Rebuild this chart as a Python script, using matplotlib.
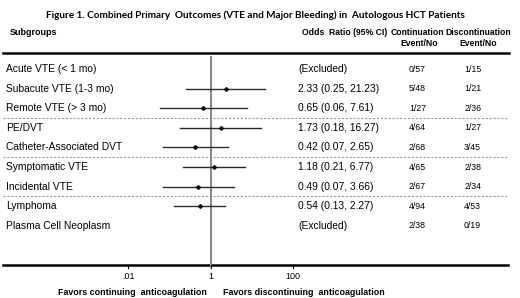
import matplotlib
matplotlib.use('Agg')
import matplotlib.pyplot as plt
import matplotlib.transforms as mtransforms

# data
subgroups = ['Acute VTE (< 1 mo)', 'Subacute VTE (1-3 mo)', 'Remote VTE (> 3 mo)',
             'PE/DVT', 'Catheter-Associated DVT', 'Symptomatic VTE',
             'Incidental VTE', 'Lymphoma', 'Plasma Cell Neoplasm']
odds = [None, 2.33, 0.65, 1.73, 0.42, 1.18, 0.49, 0.54, None]
ci_low = [None, 0.25, 0.06, 0.18, 0.07, 0.21, 0.07, 0.13, None]
ci_high = [None, 21.23, 7.61, 16.27, 2.65, 6.77, 3.66, 2.27, None]
continuation = ['0/57', '5/48', '1/27', '4/64', '2/68', '4/65', '2/67', '4/94', '2/38']
discontinuation = ['1/15', '1/21', '2/36', '1/27', '3/45', '2/38', '2/34', '4/53', '0/19']
group_breaks = [2.5, 4.5, 6.5]
tick_vals = [0.01, 1, 100]
tick_labels = ['.01', '1', '100']

plt.rcParams['font.family'] = ['Liberation Sans', 'DejaVu Sans']

fig = plt.figure(figsize=(5.2, 2.98), dpi=100)
ax = fig.add_axes([0, 0, 1, 1])
ax.set_xscale('log')
ax.set_xlim(10 ** -5.108, 10 ** 7.498)
ax.set_ylim(11.68, -3.52)
ax.axis('off')

# x in axes fraction, y in row units
tr = mtransforms.blended_transform_factory(ax.transAxes, ax.transData)

fs = 7.4
for i, name in enumerate(subgroups):
    ax.text(0.012, i, name, transform=tr, fontsize=fs, va='center', ha='left')
    if odds[i] is None:
        ax.text(0.573, i, '(Excluded)', transform=tr, fontsize=fs, va='center', ha='left')
    else:
        ax.plot([ci_low[i], ci_high[i]], [i, i], color='#2a2a2a', lw=1.0, zorder=3)
        ax.plot(odds[i], i, marker='D', ms=1.9, color='black', zorder=4)
        ax.text(0.573, i, '%.2f (%.2f, %.2f)' % (odds[i], ci_low[i], ci_high[i]),
                transform=tr, fontsize=fs, va='center', ha='left')
    ax.text(0.803, i, continuation[i], transform=tr, fontsize=6.3, va='center', ha='center')
    ax.text(0.909, i, discontinuation[i], transform=tr, fontsize=6.3, va='center', ha='center')

# separators
for b in group_breaks:
    ax.plot([0.006, 0.977], [b, b], transform=tr, color='#9a9a9a', lw=0.8,
            ls=(0, (2, 1.5)))
ax.plot([0.006, 0.979], [-0.82, -0.82], transform=tr, color='black', lw=1.8)
ax.plot([0.006, 0.977], [10, 10], transform=tr, color='black', lw=1.8)

# line of no effect
ax.plot([1, 1], [-0.6, 10.1], color='#8a8a8a', lw=1.5, zorder=2)

# ticks
for v, lab in zip(tick_vals, tick_labels):
    ax.plot([v, v], [10, 10.15], color='black', lw=0.8)
    ax.text(v, 10.6, lab, fontsize=6.5, ha='center', va='center')

ax.annotate('Favors continuing  anticoagulation', xy=(1, 11.38), xytext=(-3, 0),
            textcoords='offset points', fontsize=6.4, fontweight='bold',
            ha='right', va='center')
ax.annotate('Favors discontinuing  anticoagulation', xy=(1, 11.38), xytext=(9, 0),
            textcoords='offset points', fontsize=6.4, fontweight='bold',
            ha='left', va='center')

# headers
hy = -1.84
hfs = 6.2
ax.text(0.019, hy, 'Subgroups', transform=tr, fontsize=6.5, fontweight='bold',
        va='center', ha='left')
ax.text(0.581, hy, 'Odds  Ratio (95% CI)', transform=tr, fontsize=hfs,
        fontweight='bold', va='center', ha='left')
ax.text(0.802, hy, 'Continuation', transform=tr, fontsize=hfs, fontweight='bold',
        va='center', ha='center')
ax.text(0.806, hy + 0.52, 'Event/No', transform=tr, fontsize=hfs, fontweight='bold',
        va='center', ha='center')
ax.text(0.919, hy, 'Discontinuation', transform=tr, fontsize=hfs, fontweight='bold',
        va='center', ha='center')
ax.text(0.919, hy + 0.52, 'Event/No', transform=tr, fontsize=hfs, fontweight='bold',
        va='center', ha='center')

fig.text(0.492, 1 - 15 / 298, 'Figure 1. Combined Primary  Outcomes (VTE and Major Bleeding) in  Autologous HCT Patients',
         fontsize=7.2, fontweight='bold', ha='center', va='center',
         family=['Lato', 'DejaVu Sans'])

fig.savefig('out.png', dpi=100)
